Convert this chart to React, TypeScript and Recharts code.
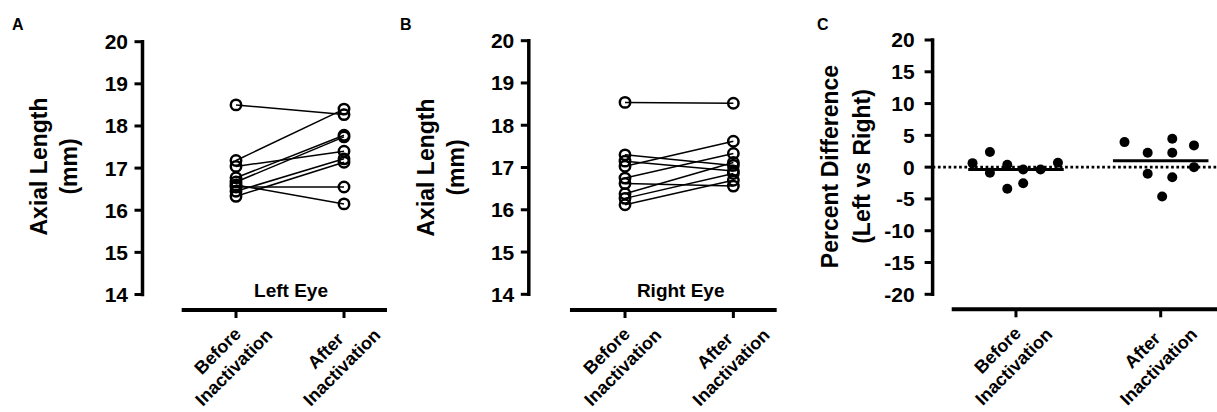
import React from 'react';
import { LineChart, Line, XAxis, YAxis, ReferenceLine, ScatterChart, Scatter } from 'recharts';

const FONT = "'Liberation Sans', Arial, Helvetica, sans-serif";

// ---------- data ----------
const categoryLines: string[][] = [
  ['Before', 'Inactivation'],
  ['After', 'Inactivation'],
];
const axialTicks = [14, 15, 16, 17, 18, 19, 20];
const percentTicks = [-20, -15, -10, -5, 0, 5, 10, 15, 20];

const leftBefore = [18.5, 17.18, 17.04, 16.77, 16.67, 16.6, 16.55, 16.45, 16.33];
const leftAfter = [18.27, 18.4, 17.4, 17.78, 17.74, 16.15, 16.55, 17.22, 17.14];

const rightBefore = [18.54, 17.3, 17.15, 17.03, 16.75, 16.62, 16.38, 16.27, 16.12];
const rightAfter = [18.52, 17.05, 16.92, 17.62, 17.33, 16.56, 17.12, 16.86, 16.7];

const diffBefore = [0.63, 2.37, -0.88, 0.38, -3.4, -0.36, -2.52, -0.36, 0.69];
const diffBeforeJitter = [-0.3, -0.18, -0.18, -0.06, -0.06, 0.05, 0.05, 0.17, 0.29];
const diffAfter = [3.94, 2.27, -1.04, -4.62, 4.48, 2.27, -1.58, 3.42, 0];
const diffAfterJitter = [-0.25, -0.09, -0.09, 0.01, 0.08, 0.08, 0.08, 0.23, 0.23];

// ---------- helpers ----------
const pairedRows = (before: number[], after: number[]) => [
  Object.fromEntries([['x', 0], ...before.map((v, i) => [`s${i}`, v])]),
  Object.fromEntries([['x', 1], ...after.map((v, i) => [`s${i}`, v])]),
];
const mean = (a: number[]) => a.reduce((s, v) => s + v, 0) / a.length;

const XTick = (props: any) => {
  const { x, y, payload } = props;
  const lines = categoryLines[payload.value] || [];
  const axisY = y - 8;
  return (
    <g transform={`translate(${x},${axisY}) rotate(-45)`}>
      {lines.map((t, i) => (
        <text
          key={i}
          x={-42}
          y={27.5 + (i === 0 ? -11.5 : 11.5)}
          textAnchor="middle"
          dominantBaseline="central"
          fontFamily={FONT}
          fontWeight={700}
          fontSize={18}
          fill="#000"
        >
          {t}
        </text>
      ))}
    </g>
  );
};

const YTitle = (props: any) => {
  const { lines, baselines, cy, letter, letterX } = props;
  return (
    <g>
      {lines.map((t: string, i: number) => (
        <text
          key={i}
          transform={`translate(${baselines[i]},${cy}) rotate(-90)`}
          textAnchor="middle"
          fontFamily={FONT}
          fontWeight={700}
          fontSize={23}
          fill="#000"
        >
          {t}
        </text>
      ))}
      <text x={letterX} y={30} fontFamily={FONT} fontWeight={700} fontSize={16} fill="#000">
        {letter}
      </text>
    </g>
  );
};

const GroupLabel = (props: any) => {
  const { text, cx, by } = props;
  return (
    <text x={cx} y={by} textAnchor="middle" fontFamily={FONT} fontWeight={700} fontSize={19} fill="#000">
      {text}
    </text>
  );
};

type PairedCfg = {
  letter: string;
  letterX: number;
  marginLeft: number;
  yAxisWidth: number;
  top: number;
  right: number;
  xMin: number;
  xMax: number;
  xLineStart: number;
  yMin: number;
  baselines: number[];
  titleCy: number;
  group: string;
  groupX: number;
  before: number[];
  after: number[];
};

const PairedPanel = ({ cfg }: { cfg: PairedCfg }) => {
  const rows = pairedRows(cfg.before, cfg.after);
  return (
    <div style={{ position: 'absolute', left: 0, top: 0 }}>
      <LineChart
        width={1217}
        height={412}
        data={rows}
        margin={{ top: cfg.top, right: cfg.right, bottom: 0, left: cfg.marginLeft }}
      >
        <XAxis
          type="number"
          dataKey="x"
          domain={[cfg.xMin, cfg.xMax]}
          allowDataOverflow
          ticks={[0, 1]}
          interval={0}
          height={102}
          axisLine={false}
          tickSize={8}
          tickMargin={0}
          tickLine={{ stroke: '#000', strokeWidth: 3 }}
          tick={<XTick />}
          label={<GroupLabel text={cfg.group} cx={cfg.groupX} by={296.5} />}
        />
        <YAxis
          type="number"
          domain={[cfg.yMin, 20]}
          allowDataOverflow
          ticks={axialTicks}
          interval={0}
          width={cfg.yAxisWidth}
          axisLine={false}
          tickSize={8}
          tickMargin={6.5}
          tickLine={{ stroke: '#000', strokeWidth: 3 }}
          tick={{ fill: '#000', fontSize: 21, fontWeight: 700, fontFamily: FONT }}
          label={
            <YTitle
              lines={['Axial Length', '(mm)']}
              baselines={cfg.baselines}
              cy={cfg.titleCy}
              letter={cfg.letter}
              letterX={cfg.letterX}
            />
          }
        />
        <ReferenceLine
          segment={[{ x: cfg.xMin, y: 14 }, { x: cfg.xMin, y: 20 }]}
          stroke="#000"
          strokeWidth={3.5}
          strokeLinecap="square"
          ifOverflow="visible"
        />
        <ReferenceLine
          segment={[{ x: cfg.xLineStart, y: cfg.yMin }, { x: cfg.xMax, y: cfg.yMin }]}
          stroke="#000"
          strokeWidth={4}
          ifOverflow="visible"
        />
        {cfg.before.map((_, i) => (
          <Line
            key={i}
            type="linear"
            dataKey={`s${i}`}
            stroke="#000"
            strokeWidth={1.5}
            dot={{ r: 5.2, stroke: '#000', strokeWidth: 2.5, fill: 'none' }}
            activeDot={false}
            isAnimationActive={false}
          />
        ))}
      </LineChart>
    </div>
  );
};

const panelA: PairedCfg = {
  letter: 'A',
  letterX: 12,
  marginLeft: 0,
  yAxisWidth: 142.5,
  top: 41.7,
  right: 1217 - 387,
  xMin: -0.8657,
  xMax: 1.398,
  xLineStart: -0.503,
  yMin: 13.632,
  baselines: [47.3, 77.3],
  titleCy: 166.5,
  group: 'Left Eye',
  groupX: 291,
  before: leftBefore,
  after: leftAfter,
};

const panelB: PairedCfg = {
  letter: 'B',
  letterX: 400,
  marginLeft: 386,
  yAxisWidth: 142.8,
  top: 40.7,
  right: 1217 - 776.7,
  xMin: -0.888,
  xMax: 1.4,
  xLineStart: -0.508,
  yMin: 13.629,
  baselines: [433.5, 463.5],
  titleCy: 167.5,
  group: 'Right Eye',
  groupX: 680.7,
  before: rightBefore,
  after: rightAfter,
};

const PercentPanel = () => {
  const xMin = -0.576;
  const xMax = 1.389;
  const yMin = -22.36;
  const beforePts = diffBefore.map((v, i) => ({ x: 0 + diffBeforeJitter[i], y: v }));
  const afterPts = diffAfter.map((v, i) => ({ x: 1 + diffAfterJitter[i], y: v }));
  const mB = mean(diffBefore);
  const mA = mean(diffAfter);
  const dotShape = (p: any) => <circle cx={p.cx} cy={p.cy} r={5} fill="#000" />;
  return (
    <div style={{ position: 'absolute', left: 0, top: 0 }}>
      <ScatterChart width={1217} height={412} margin={{ top: 40, right: 0, bottom: 0, left: 800 }}>
        <XAxis
          type="number"
          dataKey="x"
          domain={[xMin, xMax]}
          allowDataOverflow
          ticks={[0, 1]}
          interval={0}
          height={102.7}
          axisLine={false}
          tickSize={8}
          tickMargin={0}
          tickLine={{ stroke: '#000', strokeWidth: 3 }}
          tick={<XTick />}
        />
        <YAxis
          type="number"
          dataKey="y"
          domain={[yMin, 20]}
          allowDataOverflow
          ticks={percentTicks}
          interval={0}
          width={132.6}
          axisLine={false}
          tickSize={8}
          tickMargin={10}
          tickLine={{ stroke: '#000', strokeWidth: 3 }}
          tick={{ fill: '#000', fontSize: 21, fontWeight: 700, fontFamily: FONT }}
          label={
            <YTitle
              lines={['Percent Difference', '(Left vs Right)']}
              baselines={[838.3, 869.5]}
              cy={166.5}
              letter="C"
              letterX={817}
            />
          }
        />
        <ReferenceLine y={0} stroke="#000" strokeWidth={2.7} strokeDasharray="2.7 2.6" />
        <ReferenceLine
          segment={[{ x: xMin, y: -20 }, { x: xMin, y: 20 }]}
          stroke="#000"
          strokeWidth={3.5}
          strokeLinecap="square"
          ifOverflow="visible"
        />
        <ReferenceLine
          segment={[{ x: -0.444, y: yMin }, { x: xMax, y: yMin }]}
          stroke="#000"
          strokeWidth={4}
          ifOverflow="visible"
        />
        <ReferenceLine
          segment={[{ x: -0.33, y: mB }, { x: 0.33, y: mB }]}
          stroke="#000"
          strokeWidth={3}
          ifOverflow="visible"
        />
        <ReferenceLine
          segment={[{ x: 1 - 0.33, y: mA }, { x: 1 + 0.33, y: mA }]}
          stroke="#000"
          strokeWidth={3}
          ifOverflow="visible"
        />
        <Scatter data={beforePts} shape={dotShape} isAnimationActive={false} />
        <Scatter data={afterPts} shape={dotShape} isAnimationActive={false} />
      </ScatterChart>
    </div>
  );
};

export default function App() {
  return (
    <div style={{ position: 'absolute', left: 0, top: 0, width: 1217, height: 412, background: '#fff' }}>
      <PairedPanel cfg={panelA} />
      <PairedPanel cfg={panelB} />
      <PercentPanel />
    </div>
  );
}
